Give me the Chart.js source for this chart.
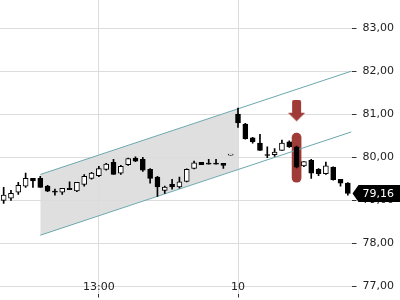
<!DOCTYPE html>
<html>
<head>
<meta charset="utf-8">
<script src="https://cdn.jsdelivr.net/npm/chart.js@4"></script>
<style>
  html, body { margin: 0; padding: 0; background: #fff; }
  #wrap { width: 400px; height: 300px; }
</style>
</head>
<body>
<div id="wrap"><canvas id="chart"></canvas></div>
<script>
// candles, one per bar
const opens  = [79.00, 79.05, 79.19, 79.33, 79.51, 79.51, 79.33, 79.20, 79.19, 79.28, 79.22, 79.37, 79.51, 79.57, 79.72, 79.88,
                79.63, 79.83, 79.98, 79.95, 79.72, 79.54, 79.23, 79.37, 79.31, 79.44, 79.74, 79.88, 79.86, 79.86, 79.86, 80.05,
                81.00, 80.77, 80.45, 80.33, 80.06, 80.06, 80.16, 80.36, 80.24, 79.80, 79.93, 79.72, 79.62, 79.77, 79.49, 79.40];
const highs  = [79.30, 79.23, 79.42, 79.63, 79.51, 79.56, 79.35, 79.26, 79.28, 79.43, 79.42, 79.60, 79.65, 79.79, 79.86, 79.95,
                79.81, 79.98, 80.01, 80.00, 79.74, 79.56, 79.33, 79.49, 79.54, 79.73, 79.91, 79.88, 79.95, 79.95, 79.86, 80.05,
                81.14, 80.79, 80.46, 80.53, 80.24, 80.20, 80.40, 80.38, 80.26, 79.90, 79.95, 79.74, 79.89, 79.78, 79.49, 79.41];
const lows   = [78.93, 79.00, 79.14, 79.30, 79.30, 79.30, 79.20, 79.12, 79.14, 79.25, 79.20, 79.33, 79.49, 79.55, 79.70, 79.60,
                79.60, 79.81, 79.90, 79.67, 79.40, 79.09, 79.16, 79.26, 79.28, 79.43, 79.73, 79.83, 79.84, 79.84, 79.74, 80.05,
                80.69, 80.42, 80.33, 80.16, 79.99, 80.02, 80.16, 80.23, 79.75, 79.78, 79.51, 79.57, 79.60, 79.47, 79.33, 79.12];
const closes = [79.12, 79.16, 79.35, 79.51, 79.45, 79.30, 79.21, 79.19, 79.28, 79.25, 79.42, 79.56, 79.63, 79.74, 79.84, 79.60,
                79.79, 79.97, 79.91, 79.70, 79.51, 79.31, 79.31, 79.31, 79.43, 79.72, 79.87, 79.83, 79.84, 79.84, 79.81, 80.05,
                80.80, 80.43, 80.36, 80.16, 80.04, 80.12, 80.33, 80.24, 79.77, 79.90, 79.63, 79.62, 79.80, 79.48, 79.40, 79.16];

// time axis labels
const xTickIndex = [13, 32];
const xTickLabels = ['13:00', '10'];

// trend channel
const upperChannel = [{ x: 5, y: 79.60 }, { x: 47.5, y: 82.00 }];
const lowerChannel = [{ x: 5, y: 78.19 }, { x: 47.5, y: 80.59 }];
const shadeTop = [{ x: 5, y: 79.60 }, { x: 32, y: 81.12 }];
const shadeBottom = [{ x: 5, y: 78.19 }, { x: 32, y: 79.72 }];

// sell signal
const signalIndex = 40;
const signalRange = [79.42, 80.56];
const arrowLevel = 81.08;

const RED = '#a03c38';
const fmt = (v) => v.toFixed(2).replace('.', ',');

// down arrow glyph used as the point style
function arrowGlyph() {
  const c = document.createElement('canvas');
  c.width = 17; c.height = 22;
  const g = c.getContext('2d');
  g.fillStyle = RED;
  g.beginPath();
  g.moveTo(4, 2); g.quadraticCurveTo(4, 0, 6, 0);
  g.lineTo(11, 0); g.quadraticCurveTo(13, 0, 13, 2);
  g.lineTo(13, 13); g.lineTo(17, 13); g.lineTo(8.5, 21.5); g.lineTo(0, 13); g.lineTo(4, 13);
  g.closePath();
  g.fill();
  return c;
}

// black tag with the last price on the right axis
const lastPriceTag = {
  id: 'lastPriceTag',
  afterDraw(chart) {
    const { ctx, chartArea, scales } = chart;
    const last = closes[closes.length - 1];
    const y = scales.y.getPixelForValue(last);
    const x0 = chartArea.right + 1;
    ctx.save();
    ctx.fillStyle = '#000';
    ctx.beginPath();
    ctx.moveTo(x0, y);
    ctx.lineTo(x0 + 6, y - 8.5);
    ctx.lineTo(chart.width, y - 8.5);
    ctx.lineTo(chart.width, y + 8.5);
    ctx.lineTo(x0 + 6, y + 8.5);
    ctx.closePath();
    ctx.fill();
    ctx.fillStyle = '#fff';
    ctx.font = '11px "DejaVu Sans"';
    ctx.textBaseline = 'middle';
    ctx.fillText(fmt(last), x0 + 10, y + 0.5);
    ctx.restore();
  }
};

// the axes should not reserve room for half labels at the ends
const noPadding = (axis) => {
  axis.paddingTop = 0; axis.paddingBottom = 0;
  axis.paddingLeft = 0; axis.paddingRight = 0;
};

const idx = closes.map((_, i) => i);
const up = idx.map((i) => closes[i] >= opens[i]);

Chart.defaults.font.family = '"DejaVu Sans", sans-serif';
Chart.defaults.font.size = 11;
Chart.defaults.color = '#222';

new Chart(document.getElementById('chart'), {
  type: 'bar',
  data: {
    datasets: [
      {
        type: 'line', data: shadeTop, fill: '+1', backgroundColor: 'rgba(0,0,0,0.125)',
        borderWidth: 0, pointRadius: 0, order: 20
      },
      {
        type: 'line', data: shadeBottom, fill: false,
        borderWidth: 0, pointRadius: 0, order: 21
      },
      {
        data: [{ x: signalIndex, y: signalRange }],
        backgroundColor: RED, barThickness: 9, borderRadius: 5, borderSkipped: false, order: 10
      },
      {
        type: 'line', data: upperChannel, borderColor: '#6aa8ad', borderWidth: 1,
        pointRadius: 0, fill: false, order: 7
      },
      {
        type: 'line', data: lowerChannel, borderColor: '#6aa8ad', borderWidth: 1,
        pointRadius: 0, fill: false, order: 7
      },
      {
        // wicks
        data: idx.map((i) => ({ x: i, y: [lows[i], highs[i]] })),
        backgroundColor: '#000', barThickness: 1, borderWidth: 0, order: 5
      },
      {
        // bodies
        data: idx.map((i) => ({ x: i, y: [opens[i], closes[i]] })),
        backgroundColor: up.map((u) => (u ? '#fff' : '#000')),
        borderColor: '#000', borderWidth: 1, borderSkipped: false,
        barThickness: 5, minBarLength: 1, order: 4
      },
      {
        type: 'line', data: [{ x: signalIndex, y: arrowLevel }], showLine: false,
        pointStyle: arrowGlyph(), pointRadius: 10, order: 1
      }
    ]
  },
  options: {
    responsive: true,
    maintainAspectRatio: false,
    animation: false,
    events: [],
    datasets: { bar: { grouped: false } },
    layout: { autoPadding: false, padding: { top: 0, left: 0, right: 0, bottom: 6.5 } },
    plugins: {
      legend: { display: false },
      tooltip: { enabled: false },
      filler: { drawTime: 'beforeDraw' }
    },
    scales: {
      x: {
        type: 'linear',
        min: -0.5,
        max: 47.5,
        offset: false,
        border: { display: false },
        grid: { color: '#dcdcdc', tickColor: '#333', tickLength: 4, offset: false },
        afterBuildTicks: (axis) => { axis.ticks = xTickIndex.map((v) => ({ value: v })); },
        afterFit: noPadding,
        ticks: {
          padding: -16.5,
          maxRotation: 0,
          autoSkip: false,
          callback: (v) => xTickLabels[xTickIndex.indexOf(v)]
        }
      },
      y: {
        position: 'right',
        min: 76.837,
        max: 83.651,
        border: { display: false },
        grid: { color: '#dcdcdc', tickColor: '#333', tickLength: 5 },
        afterFit: noPadding,
        ticks: {
          stepSize: 1,
          includeBounds: false,
          padding: 6,
          callback: (v) => fmt(v)
        }
      }
    }
  },
  plugins: [lastPriceTag]
});
</script>
</body>
</html>
